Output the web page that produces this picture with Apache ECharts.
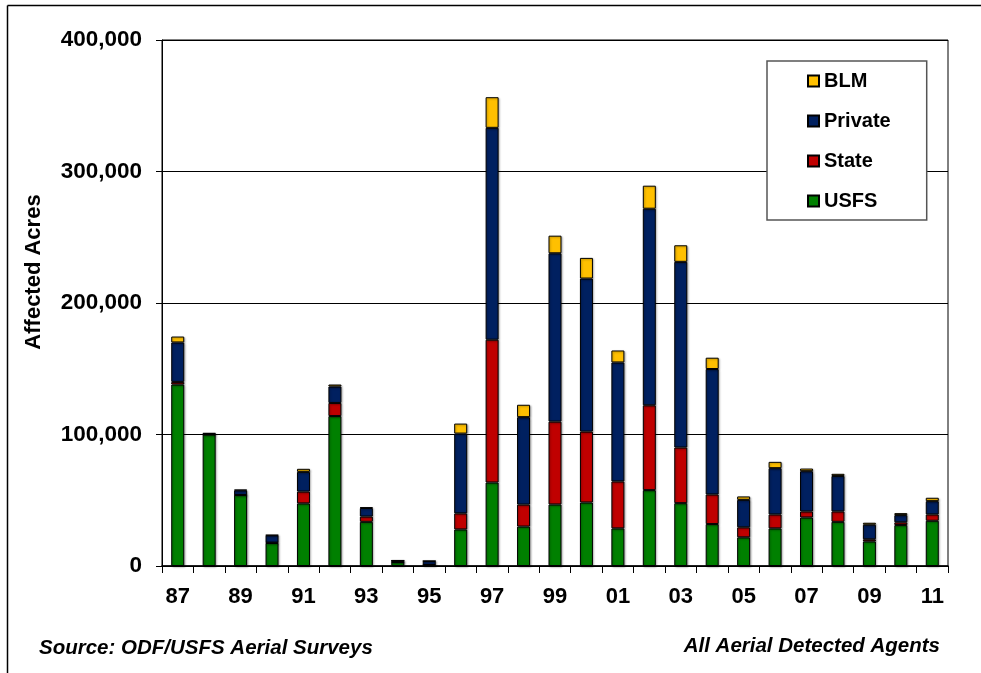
<!DOCTYPE html>
<html>
<head>
<meta charset="utf-8">
<script src="https://cdn.jsdelivr.net/npm/echarts@6/dist/echarts.min.js"></script>
<style>
  html, body { margin: 0; padding: 0; background: #fff; }
  #chart { width: 981px; height: 673px; }
</style>
</head>
<body>
<div id="chart"></div>
<script>
const years = ['87','88','89','90','91','92','93','94','95','96','97','98','99','00','01','02','03','04','05','06','07','08','09','10','11'];
const usfs    = [138000,100000,54000,17500,47600,114000,33600,3000,800,27800,63500,30000,46800,48300,28600,57700,47800,31900,21800,28600,36900,33600,18700,31100,34400];
const state   = [2000,0,0,300,9000,10000,4000,0,0,12200,108600,16700,63000,53900,35700,64500,42300,22500,7600,10600,4600,7900,1600,2100,4800];
const priv    = [30000,700,3500,5500,15000,12500,6500,1200,3000,60700,161100,66500,128000,116400,90500,149500,141200,95400,20900,35200,30600,27000,11100,5500,10100];
const blm     = [4500,300,500,300,2300,1500,500,0,0,7600,23300,9400,13400,15700,9100,17500,12600,8600,2600,4800,2000,1600,1500,1500,2600];
const yTicks  = [0, 100000, 200000, 300000, 400000];

const FONT = 'Liberation Sans, Arial, sans-serif';
const chart = echarts.init(document.getElementById('chart'));

function bar(name, data, color) {
  return {
    name: name, type: 'bar', stack: 'total', data: data, barWidth: 13,
    itemStyle: {
      color: color, borderColor: '#000', borderWidth: 1,
      shadowColor: 'rgba(0,0,0,0.3)', shadowBlur: 2, shadowOffsetX: 1, shadowOffsetY: 1
    },
    emphasis: { disabled: true }
  };
}

chart.setOption({
  animation: false,
  backgroundColor: '#fff',
  grid: { left: 162, right: 33, top: 40, bottom: 107, show: true, borderColor: '#000', borderWidth: 1 },
  legend: {
    data: ['BLM', 'Private', 'State', 'USFS'],
    orient: 'vertical', left: 767, top: 61,
    padding: [10, 36, 9, 40],
    itemGap: 20, itemWidth: 11, itemHeight: 11,
    icon: 'rect',
    backgroundColor: '#fff', borderColor: '#555', borderWidth: 1.5,
    textStyle: { fontFamily: FONT, fontSize: 20, fontWeight: 'bold', color: '#000', lineHeight: 20 }
  },
  xAxis: {
    type: 'category', data: years, boundaryGap: true,
    axisLine: { lineStyle: { color: '#000', width: 1.5 } },
    axisTick: { show: true, interval: 0, length: 7, lineStyle: { color: '#000' } },
    axisLabel: { interval: 1, margin: 20, fontFamily: FONT, fontSize: 22, fontWeight: 'bold', color: '#000' }
  },
  yAxis: {
    type: 'value', min: yTicks[0], max: yTicks[yTicks.length - 1], interval: 100000,
    axisLine: { show: true, lineStyle: { color: '#000', width: 1 } },
    axisTick: { show: true, length: 6, lineStyle: { color: '#000' } },
    splitLine: { show: true, lineStyle: { color: '#000', width: 1 } },
    axisLabel: {
      margin: 20, fontFamily: FONT, fontSize: 22.5, fontWeight: 'bold', color: '#000',
      formatter: v => String(v).replace(/\B(?=(\d{3})+(?!\d))/g, ',')
    }
  },
  series: [
    bar('USFS', usfs, '#008000'),
    bar('State', state, '#C00000'),
    bar('Private', priv, '#002060'),
    bar('BLM', blm, '#FFC000')
  ],
  graphic: [
    { type: 'line', shape: { x1: 7.5, y1: 5.5, x2: 981, y2: 5.5 }, style: { stroke: '#000', lineWidth: 1.5 }, z: 100 },
    { type: 'line', shape: { x1: 7.5, y1: 5.5, x2: 7.5, y2: 673 }, style: { stroke: '#000', lineWidth: 1.5 }, z: 100 },
    { type: 'text', x: 34, y: 272, rotation: Math.PI / 2,
      style: { text: 'Affected Acres', font: 'bold 22px ' + FONT, fill: '#000', align: 'center', verticalAlign: 'middle' } },
    { type: 'text', x: 39, y: 648,
      style: { text: 'Source: ODF/USFS Aerial Surveys', font: 'italic bold 20.5px ' + FONT, fill: '#000', align: 'left', verticalAlign: 'middle' } },
    { type: 'text', x: 940, y: 646,
      style: { text: 'All Aerial Detected Agents', font: 'italic bold 20.5px ' + FONT, fill: '#000', align: 'right', verticalAlign: 'middle' } }
  ]
});
</script>
</body>
</html>
